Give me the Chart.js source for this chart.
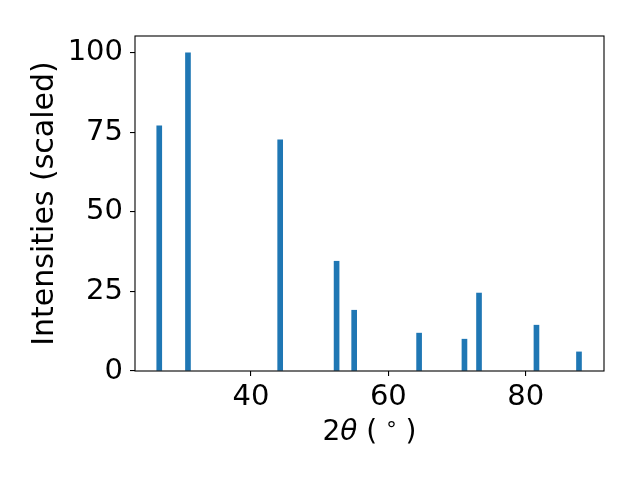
<!DOCTYPE html>
<html>
<head>
<meta charset="utf-8">
<script src="https://cdn.jsdelivr.net/npm/chart.js@4"></script>
<style>
html,body{margin:0;padding:0;background:#fff;}
#wrap{width:640px;height:480px;}
</style>
</head>
<body>
<div id="wrap"><canvas id="c" width="640" height="480"></canvas></div>
<script>
const twoTheta = [26.66, 30.84, 44.26, 52.47, 55.03, 64.48, 71.08, 73.2, 81.56, 87.75];
const intensities = [77.1, 100, 72.7, 34.5, 19.1, 11.9, 10.0, 24.5, 14.4, 6.0];
const xTicks = [40, 60, 80];
const yTicks = [0, 25, 50, 75, 100];

const FONT = "'DejaVu Sans', sans-serif";
const FS = 29;
const TFS = 30;
const XTFS = 28;

const framePlugin = {
  id: 'frame',
  afterDraw(chart) {
    const {ctx, chartArea: a} = chart;
    ctx.save();
    ctx.strokeStyle = '#000';
    ctx.lineWidth = 1.1;
    ctx.strokeRect(a.left, a.top, a.right - a.left, a.bottom - a.top);
    ctx.restore();
  }
};

// x-axis title drawn with mixed styles like matplotlib mathtext: 2θ ( ° )
const xTitlePlugin = {
  id: 'xtitle',
  afterDraw(chart) {
    const {ctx, chartArea: a} = chart;
    const parts = [
      {t: '2', f: `${XTFS}px ${FONT}`, dy: 0},
      {t: 'θ', f: `oblique ${XTFS}px ${FONT}`, dy: 0},
      {t: ' ( ', f: `${XTFS}px ${FONT}`, dy: 0},
      {t: '°', f: `${Math.round(XTFS*0.75)}px ${FONT}`, dy: -3},
      {t: ' )', f: `${XTFS}px ${FONT}`, dy: 0}
    ];
    ctx.save();
    ctx.fillStyle = '#000';
    ctx.textBaseline = 'alphabetic';
    let w = 0;
    parts.forEach(p => { ctx.font = p.f; p.w = ctx.measureText(p.t).width; w += p.w; });
    let x = (a.left + a.right) / 2 - w / 2;
    const base = 440;
    parts.forEach(p => { ctx.font = p.f; ctx.fillText(p.t, x, base + p.dy); x += p.w; });
    ctx.restore();
  }
};

new Chart(document.getElementById('c'), {
  type: 'bar',
  data: {
    datasets: [{
      data: twoTheta.map((x, i) => ({x: x, y: intensities[i]})),
      backgroundColor: '#1f77b4',
      borderWidth: 0,
      barThickness: 5
    }]
  },
  options: {
    responsive: false,
    animation: false,
    events: [],
    layout: {padding: {top: 36, right: 36, left: 0, bottom: 0}},
    plugins: {legend: {display: false}, tooltip: {enabled: false}},
    scales: {
      x: {
        type: 'linear',
        offset: false,
        min: 23.13,
        max: 91.39,
        afterBuildTicks(s) { s.ticks = xTicks.map(v => ({value: v})); },
        afterFit(s) { s.height = 109; },
        grid: {display: true, offset: false, drawOnChartArea: false, drawTicks: true, tickLength: 5, color: '#000', lineWidth: 1.1},
        border: {display: false},
        ticks: {color: '#000', font: {family: FONT, size: FS}, padding: 4, maxRotation: 0},
        title: {display: false}
      },
      y: {
        min: 0,
        max: 105.3,
        afterBuildTicks(s) { s.ticks = yTicks.map(v => ({value: v})); },
        afterFit(s) { s.width = 135; },
        grid: {display: true, drawOnChartArea: false, drawTicks: true, tickLength: 5, color: '#000', lineWidth: 1.1},
        border: {display: false},
        ticks: {color: '#000', font: {family: FONT, size: FS}, padding: 7},
        title: {display: true, text: 'Intensities (scaled)', color: '#000', font: {family: FONT, size: TFS}, padding: {top: 27, bottom: 0}}
      }
    }
  },
  plugins: [framePlugin, xTitlePlugin]
});
</script>
</body>
</html>
